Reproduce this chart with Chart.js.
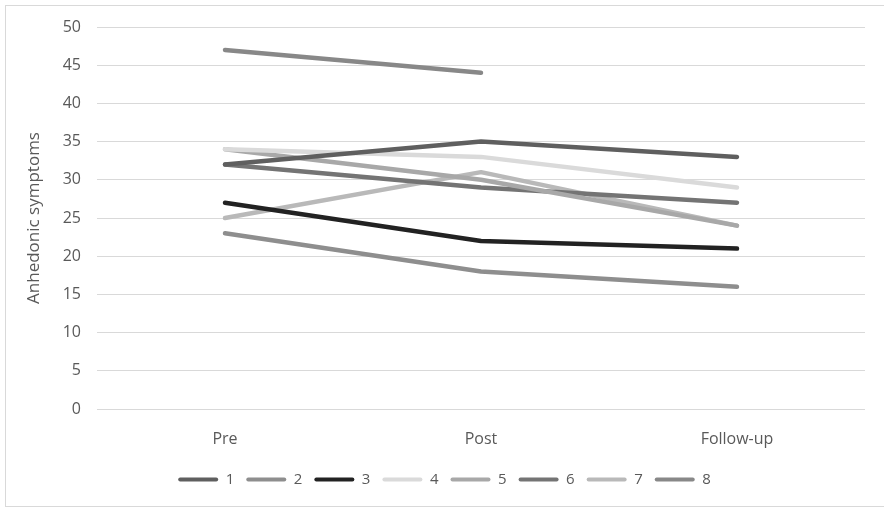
<!DOCTYPE html>
<html>
<head>
<meta charset="utf-8">
<script src="https://cdn.jsdelivr.net/npm/chart.js@4/dist/chart.umd.min.js"></script>
<style>
  html, body { margin: 0; padding: 0; background: #ffffff; }
  #frame {
    position: absolute; left: 5px; top: 5px;
    width: 879px; height: 502px;
    border: 1px solid #d9d9d9; border-right: none;
    box-sizing: border-box;
  }
  #wrap { position: absolute; left: 0; top: 0; width: 884px; height: 509px; }
</style>
</head>
<body>
<div id="frame"></div>
<div id="wrap"><canvas id="chart" width="884" height="509"></canvas></div>
<script>
// Time points of the assessment
const timepoints = ['Pre', 'Post', 'Follow-up'];

// Anhedonic symptom scores per participant
const p1 = [32, 35, 33];
const p2 = [23, 18, 16];
const p3 = [27, 22, 21];
const p4 = [34, 33, 29];
const p5 = [34, 30, 24];
const p6 = [32, 29, 27];
const p7 = [25, 31, 24];
const p8 = [47, 44, null];

const participantNames = ['1', '2', '3', '4', '5', '6', '7', '8'];
const participantScores = [p1, p2, p3, p4, p5, p6, p7, p8];
const lineColours = ['#5f5f5f', '#8e8e8e', '#222222', '#dadada', '#a8a8a8', '#747474', '#b9b9b9', '#888888'];

const yTicks = { min: 0, max: 50, step: 5 };

const FONT = "'Open Sans', 'Liberation Sans', sans-serif";
const TEXT = '#595959';

const datasets = participantScores.map((vals, i) => ({
  label: participantNames[i],
  data: vals,
  borderColor: lineColours[i],
  backgroundColor: lineColours[i],
  borderWidth: 4.5,
  borderCapStyle: 'round',
  borderJoinStyle: 'round',
  pointRadius: 0,
  pointHoverRadius: 0,
  tension: 0,
  spanGaps: false
}));

new Chart(document.getElementById('chart'), {
  type: 'line',
  data: { labels: timepoints, datasets },
  options: {
    responsive: false,
    animation: false,
    devicePixelRatio: 1,
    layout: { padding: { left: 24, right: 19, top: 27, bottom: 12 } },
    plugins: {
      tooltip: { enabled: false },
      legend: {
        position: 'bottom',
        labels: {
          boxWidth: 40,
          boxHeight: 4,
          padding: 12,
          color: TEXT,
          useBorderRadius: true,
          borderRadius: 2,
          font: { family: FONT, size: 15 },
          // flat line-shaped legend keys
          generateLabels: chart => chart.data.datasets.map((ds, i) => ({
            text: ds.label,
            fillStyle: ds.borderColor,
            strokeStyle: ds.borderColor,
            lineWidth: 0,
            fontColor: TEXT,
            borderRadius: 2,
            hidden: false,
            datasetIndex: i
          }))
        }
      }
    },
    scales: {
      x: {
        offset: true,
        grid: { display: false, drawTicks: false },
        border: { display: false },
        ticks: { color: TEXT, font: { family: FONT, size: 16 }, padding: 21, maxRotation: 0 },
        afterFit: s => { s.height = 51; }
      },
      y: {
        min: yTicks.min,
        max: yTicks.max,
        ticks: { stepSize: yTicks.step, color: TEXT, font: { family: FONT, size: 16 }, padding: 16 },
        grid: { color: '#d9d9d9', lineWidth: 1, drawTicks: false },
        border: { display: false },
        title: { display: true, text: 'Anhedonic symptoms', color: TEXT, font: { family: FONT, size: 17 }, padding: 0 },
        afterFit: s => { s.width = 73; }
      }
    }
  }
});
</script>
</body>
</html>
